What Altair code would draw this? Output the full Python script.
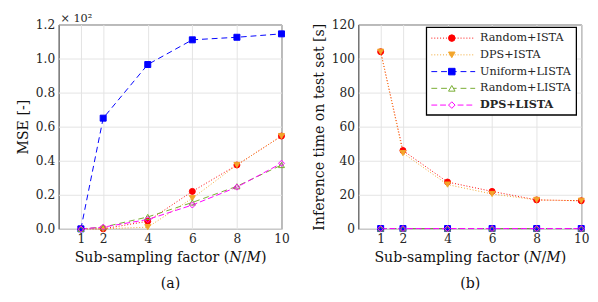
import altair as alt
import pandas as pd

factors = [1, 2, 4, 6, 8, 10]
series = ["Random+ISTA", "DPS+ISTA", "Uniform+LISTA", "Random+LISTA", "DPS+LISTA"]

# MSE (x 10^2)
mse_random_ista = [0.0, 0.0, 0.045, 0.22, 0.375, 0.545]
mse_dps_ista = [0.0, 0.0, 0.01, 0.18, 0.375, 0.545]
mse_uniform_lista = [0.0, 0.65, 0.965, 1.11, 1.125, 1.145]
mse_random_lista = [0.0, 0.01, 0.07, 0.155, 0.25, 0.375]
mse_dps_lista = [0.0, 0.01, 0.055, 0.14, 0.245, 0.385]

# Inference time [s]
t_random_ista = [104, 46, 27.5, 22, 17, 16.5]
t_dps_ista = [104, 44.5, 26, 20.5, 17, 16.5]
t_uniform_lista = [0.2, 0.2, 0.2, 0.2, 0.2, 0.2]
t_random_lista = [0.2, 0.2, 0.2, 0.2, 0.2, 0.2]
t_dps_lista = [0.2, 0.2, 0.2, 0.2, 0.2, 0.2]

mse_all = [mse_random_ista, mse_dps_ista, mse_uniform_lista, mse_random_lista, mse_dps_lista]
t_all = [t_random_ista, t_dps_ista, t_uniform_lista, t_random_lista, t_dps_lista]

rows = []
for i, s in enumerate(series):
    for j, f in enumerate(factors):
        rows.append({"series": s, "order": i, "factor": f, "mse": mse_all[i][j], "time": t_all[i][j]})
df = pd.DataFrame(rows)

colors = ["#FF0000", "#F2A52B", "#0000FF", "#77AC30", "#FF00FF"]
fills = ["#FF0000", "#F2A52B", "#0000FF", "transparent", "transparent"]
shapes = ["circle", "triangle-down", "square", "triangle-up", "diamond"]
dashes = [[1, 2], [1, 2], [6, 4], [6, 4], [6, 3]]

FONT = "DejaVu Serif"
W, H = 229, 210


def panel(field, ydom, yvals, ytitle, caption, fmt):
    base = alt.Chart(df)
    x = alt.X("factor:Q", scale=alt.Scale(domain=[0, 10], nice=False),
              axis=alt.Axis(values=factors, title=["Sub-sampling factor (𝑁/𝑀)", caption],
                            titleLineHeight=27, titlePadding=6, labelFlush=False))
    y = alt.Y(f"{field}:Q", scale=alt.Scale(domain=ydom, nice=False),
              axis=alt.Axis(values=yvals, format=fmt, title=ytitle, labelFlush=False))
    lines = base.mark_line(strokeWidth=1).encode(
        x=x, y=y,
        color=alt.Color("series:N", scale=alt.Scale(domain=series, range=colors), legend=None),
        strokeDash=alt.StrokeDash("series:N", scale=alt.Scale(domain=series, range=dashes), legend=None),
        order="factor:Q",
    )
    points = base.mark_point(size=38, strokeWidth=1, opacity=1, clip=False).encode(
        x=x, y=y,
        shape=alt.Shape("series:N", scale=alt.Scale(domain=series, range=shapes), legend=None),
        stroke=alt.Stroke("series:N", scale=alt.Scale(domain=series, range=colors), legend=None),
        fill=alt.Fill("series:N", scale=alt.Scale(domain=series, range=fills), legend=None),
        order="order:Q",
    )
    return [lines, points]


one = pd.DataFrame({"series": series})

left_layers = panel("mse", [0, 1.2], [0, 0.2, 0.4, 0.6, 0.8, 1.0, 1.2], "MSE [-]", "(a)", ".1f")
exponent = alt.Chart(one).transform_filter(alt.datum.series == series[0]).mark_text(
    text="× 10²", align="left", baseline="middle", font=FONT, fontSize=11.5, color="#262626"
).encode(x=alt.value(2), y=alt.value(-6))
left = alt.layer(*left_layers, exponent).properties(width=W, height=H)

right_layers = panel("time", [0, 120], [0, 20, 40, 60, 80, 100, 120],
                     "Inference time on test set [s]", "(b)", "d")

# legend (guide) drawn inside the right panel
box = alt.Chart(one).transform_filter(alt.datum.series == series[0]).mark_rect(
    fill="white", stroke="#000000", strokeWidth=1.3
).encode(x=alt.value(70), x2=alt.value(224), y=alt.value(3), y2=alt.value(93))
legend_layers = [box]
for i, s in enumerate(series):
    yy = 14 + i * 17.2
    sub = alt.Chart(one).transform_filter(alt.datum.series == s)
    legend_layers.append(sub.mark_rule(color=colors[i], strokeWidth=1, strokeDash=dashes[i]).encode(
        x=alt.value(75), x2=alt.value(120), y=alt.value(yy)))
    legend_layers.append(sub.mark_point(size=45, strokeWidth=1, opacity=1, shape=shapes[i],
                                        stroke=colors[i], fill=fills[i] if fills[i] != "transparent" else "white"
                                        ).encode(x=alt.value(96), y=alt.value(yy)))
    legend_layers.append(sub.mark_text(align="left", baseline="middle", font=FONT, fontSize=11.5,
                                       color="#262626",
                                       fontWeight="bold" if s == "DPS+LISTA" else "normal").encode(
        x=alt.value(125), y=alt.value(yy), text="series:N"))

right = alt.layer(*right_layers, *legend_layers).properties(width=W, height=H)

chart = alt.hconcat(left, right, spacing=21).properties(
    padding={"left": 7, "top": 0, "right": 0, "bottom": 0}
).configure_view(
    stroke="#262626", strokeWidth=1
).configure_axis(
    labelFont=FONT, titleFont=FONT, labelFontSize=12.5, titleFontSize=14.5,
    titleFontWeight="normal", labelColor="#262626", titleColor="#111111",
    gridColor="#e3e3e3", gridWidth=1, domain=False, ticks=False, labelPadding=4,
).configure_axisY(titlePadding=5)

chart.save("out.html", embed_options={"renderer": "svg", "actions": False})
